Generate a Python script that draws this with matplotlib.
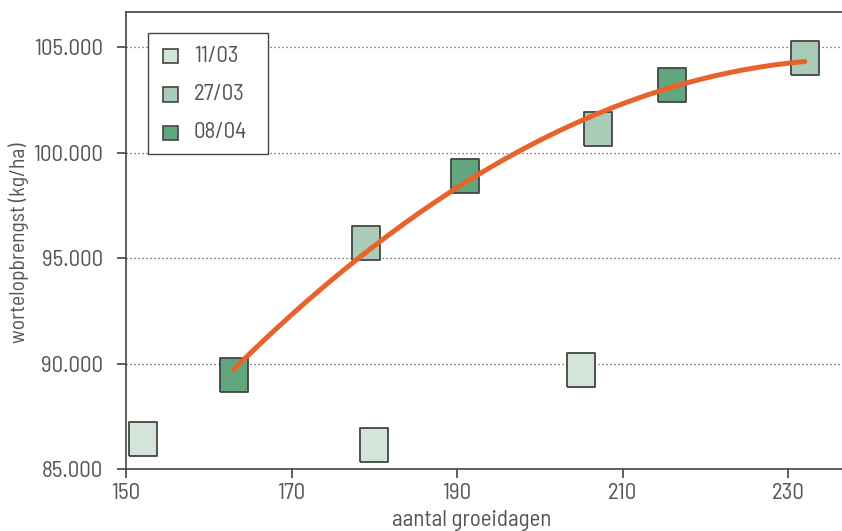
import numpy as np
import matplotlib.pyplot as plt
from matplotlib.patches import Rectangle
from matplotlib.ticker import FuncFormatter

# growing days vs carrot yield per sowing date
days_1103 = [152.0, 180.0, 205.0]
yield_1103 = [86420, 86150, 89690]
days_2703 = [179.0, 207.0, 232.0]
yield_2703 = [95710, 101110, 104480]
days_0804 = [163.0, 191.0, 216.0]
yield_0804 = [89440, 98890, 103200]

series_labels = ["11/03", "27/03", "08/04"]
series_colors = ["#d3e5d8", "#aacbb7", "#62a67e"]

x_ticks = [150, 170, 190, 210, 230]
y_ticks = [85000, 90000, 95000, 100000, 105000]

plt.rcParams["font.family"] = ["Barlow Semi Condensed", "DejaVu Sans"]

TXT = "#555555"
EDGE = "#444444"
FS = 16.5

W, H = 842, 531
L, R, T, B = 126, 842, 12, 469   # axes box in pixels

fig = plt.figure(figsize=(W / 100, H / 100), dpi=100)
ax = fig.add_axes([L / W, 1 - B / H, (R - L) / W, (B - T) / H])


def px(x, y):
    # pixel position -> axes fraction
    return (x - L) / (R - L), (B - y) / (B - T)


# tall rectangle marker
rect = [(-0.43, -0.5), (0.43, -0.5), (0.43, 0.5), (-0.43, 0.5), (-0.43, -0.5)]
for xs, ys, col in zip([days_1103, days_2703, days_0804],
                       [yield_1103, yield_2703, yield_0804], series_colors):
    ax.plot(xs, ys, linestyle="none", marker=rect, markersize=24,
            markerfacecolor=col, markeredgecolor=EDGE, markeredgewidth=1.3, zorder=3)

# quadratic trend through the 27/03 and 08/04 sowings
tx = np.array(days_2703 + days_0804)
ty = np.array(yield_2703 + yield_0804)
coef = np.polyfit(tx, ty, 2)
xx = np.linspace(163, 232, 200)
ax.plot(xx, np.polyval(coef, xx), color="#e8632b", linewidth=3.6,
        solid_capstyle="round", zorder=4)

ax.set_xlim(150, 236.5)
ax.set_ylim(85000, 106660)
ax.set_xticks(x_ticks)
ax.set_yticks(y_ticks)
ax.yaxis.set_major_formatter(FuncFormatter(lambda v, p: f"{int(v):,}".replace(",", ".")))

for y in y_ticks[1:]:
    ax.axhline(y, color="#555555", linestyle=(0, (1, 2.2)), linewidth=0.9, zorder=1)

for s in ax.spines.values():
    s.set_color(EDGE)
    s.set_linewidth(1.2)
ax.spines["right"].set_visible(False)

ax.tick_params(direction="out", length=6.3, width=1.2, color=EDGE,
               labelcolor=TXT, labelsize=FS)
ax.tick_params(axis="y", pad=10)
ax.tick_params(axis="x", pad=4)

ax.set_xlabel("aantal groeidagen", color=TXT, fontsize=FS)
ax.xaxis.set_label_coords(*px(472, 510))
ax.set_ylabel("wortelopbrengst (kg/ha)", color=TXT, fontsize=15.5)
ax.yaxis.set_label_coords(*px(29, 243))

# legend box
x0, y0 = px(148, 154)
x1, y1 = px(268, 33)
ax.add_patch(Rectangle((x0, y0), x1 - x0, y1 - y0, transform=ax.transAxes,
                       facecolor="white", edgecolor=EDGE, linewidth=1.0, zorder=5))
for i, (lab, col) in enumerate(zip(series_labels, series_colors)):
    yc = 56 + i * 38.5
    sx, sy = px(163, yc + 7)
    sw = 15 / (R - L)
    sh = 14.5 / (B - T)
    ax.add_patch(Rectangle((sx, sy), sw, sh, transform=ax.transAxes,
                           facecolor=col, edgecolor=EDGE, linewidth=1.2, zorder=6))
    ax.text(*px(194, yc), lab, transform=ax.transAxes, ha="left", va="center",
            color=TXT, fontsize=FS, zorder=6)

fig.savefig("out.png", dpi=100)
